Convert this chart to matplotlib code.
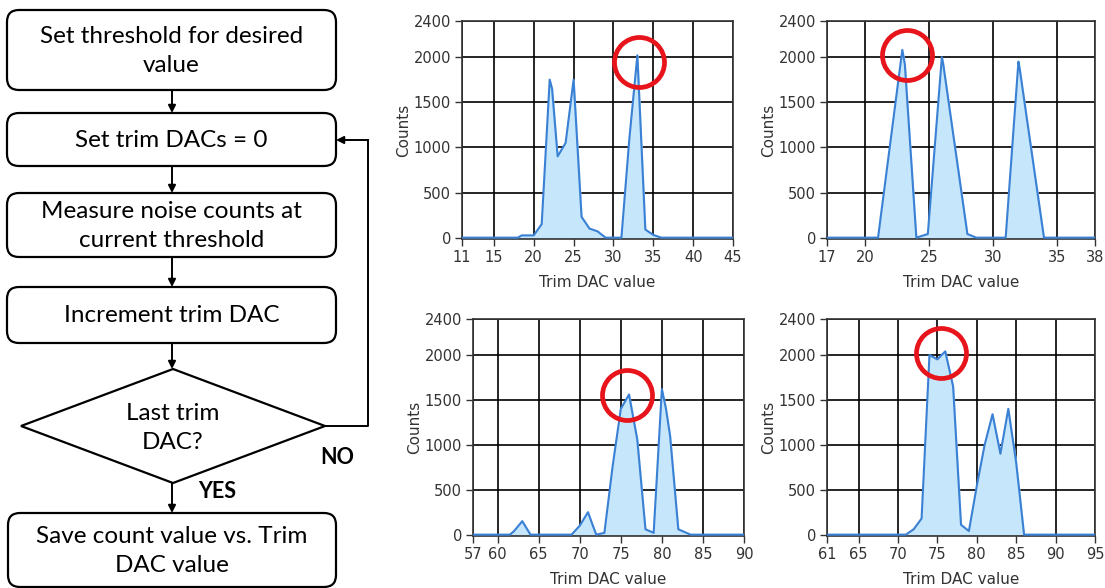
import matplotlib.pyplot as plt
from matplotlib.patches import FancyBboxPatch, Polygon

# histogram data
tl_x = [11, 18, 18.5, 20, 21, 22, 22.3, 23, 24, 25, 26, 27, 28, 29, 31, 32, 33, 34, 35, 36, 45]
tl_y = [0, 0, 25, 25, 150, 1750, 1650, 900, 1050, 1750, 230, 100, 70, 0, 0, 1100, 2020, 90, 30, 0, 0]
tl_ticks = [11, 15, 20, 25, 30, 35, 40, 45]

tr_x = [17, 21, 22.9, 23.1, 24, 24.9, 26, 26.1, 28, 28.7, 31, 32, 32.1, 34, 38]
tr_y = [0, 0, 2080, 1920, 0, 40, 2000, 1930, 40, 0, 0, 1950, 1870, 0, 0]
tr_ticks = [17, 20, 25, 30, 35, 38]

bl_x = [57, 61.5, 62, 63, 64, 69, 70, 71, 72, 73, 74, 75, 76, 77, 78, 79, 80, 80.5, 81, 82, 83.5, 90]
bl_y = [0, 0, 40, 150, 0, 0, 100, 250, 0, 20, 760, 1400, 1560, 1060, 60, 20, 1620, 1400, 1100, 60, 0, 0]
bl_ticks = [57, 60, 65, 70, 75, 80, 85, 90]

br_x = [61, 71, 72, 73, 74, 75, 76, 77, 78, 79, 80, 81, 82, 83, 84, 85, 86, 95]
br_y = [0, 0, 60, 180, 2000, 1950, 2040, 1650, 110, 40, 540, 1000, 1340, 900, 1400, 800, 0, 0]
br_ticks = [61, 65, 70, 75, 80, 85, 90, 95]

# red circle centres (data coords)
circles = [(33.2, 1950), (23.3, 2020), (75.7, 1550), (75.4, 2020)]

y_ticks = [0, 500, 1000, 1500, 2000, 2400]

box_texts = ["Set threshold for desired\nvalue", "Set trim DACs = 0",
             "Measure noise counts at\ncurrent threshold", "Increment trim DAC",
             "Save count value vs. Trim\nDAC value"]
diamond_text = "Last trim\nDAC?"

fig = plt.figure(figsize=(11.05, 5.88), dpi=100)

# flowchart in pixel coordinates
ax0 = fig.add_axes([0, 0, 1, 1])
ax0.set_xlim(0, 1105)
ax0.set_ylim(588, 0)
ax0.axis('off')

boxes = [(7, 10, 336, 90), (7, 113, 336, 166), (7, 193, 336, 257),
         (7, 287, 336, 343), (8, 513, 336, 587)]
ffont = ['Lato', 'DejaVu Sans']
for (x0, y0, x1, y1), t in zip(boxes, box_texts):
    ax0.add_patch(FancyBboxPatch((x0, y0), x1 - x0, y1 - y0,
                                 boxstyle="round,pad=0,rounding_size=12",
                                 fc='white', ec='black', lw=1.6))
    ax0.text((x0 + x1) / 2, (y0 + y1) / 2 + 1, t, ha='center', va='center',
             fontsize=17.5, family=ffont, linespacing=1.42)

dia = Polygon([(21, 426), (173, 369), (325, 426), (173, 483)], closed=True,
              fc='white', ec='black', lw=1.6)
ax0.add_patch(dia)
ax0.text(173, 428, diamond_text, ha='center', va='center', fontsize=17.5,
         family=ffont, linespacing=1.42)

arr = dict(arrowstyle='-|>', color='black', lw=1.4, mutation_scale=11, shrinkA=0, shrinkB=0)
for ya, yb in [(90, 113), (166, 193), (257, 287), (343, 369), (483, 513)]:
    ax0.annotate('', xy=(172, yb), xytext=(172, ya), arrowprops=arr)
ax0.plot([325, 368, 368], [426, 426, 140], color='black', lw=1.4)
ax0.annotate('', xy=(336, 140), xytext=(368, 140), arrowprops=arr)
ax0.text(337, 457, 'NO', ha='center', va='center', fontsize=15.5, fontweight='bold', family=ffont)
ax0.text(217, 491, 'YES', ha='center', va='center', fontsize=15.5, fontweight='bold', family=ffont)

# histogram panels
panels = [
    ([462 / 1105, 349 / 588, 271 / 1105, 218 / 588], tl_x, tl_y, tl_ticks, circles[0]),
    ([827 / 1105, 349 / 588, 268 / 1105, 218 / 588], tr_x, tr_y, tr_ticks, circles[1]),
    ([473 / 1105, 52 / 588, 271 / 1105, 217 / 588], bl_x, bl_y, bl_ticks, circles[2]),
    ([827 / 1105, 52 / 588, 268 / 1105, 217 / 588], br_x, br_y, br_ticks, circles[3]),
]
for rect, xs, ys, xt, (cx, cy) in panels:
    ax = fig.add_axes(rect)
    ax.fill_between(xs, ys, 0, color='#c6e7fb', zorder=2)
    ax.plot(xs, ys, color='#3a80d4', lw=1.5, zorder=3)
    ax.set_xlim(xt[0], xt[-1])
    ax.set_ylim(-15, 2400)
    ax.set_xticks(xt)
    ax.set_yticks(y_ticks)
    ax.grid(True, color='black', lw=1.2, zorder=1)
    ax.set_axisbelow(True)
    for s in ax.spines.values():
        s.set_color('#333333')
        s.set_linewidth(1.2)
    ax.tick_params(labelsize=10.5, colors='#333333', length=5, width=1, pad=3)
    ax.set_xlabel('Trim DAC value', fontsize=11, color='#333333', labelpad=7)
    ax.set_ylabel('Counts', fontsize=11, color='#333333', labelpad=1.5)
    ax.plot(cx, cy, 'o', ms=36, mfc='none', mec='#e8141b', mew=3.4, zorder=5, clip_on=False)

fig.savefig('out.png', dpi=100)
